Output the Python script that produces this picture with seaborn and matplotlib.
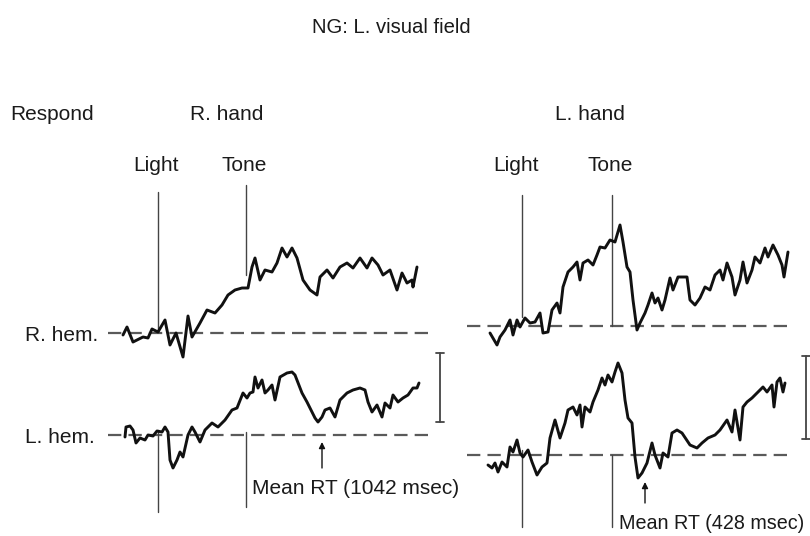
import matplotlib
matplotlib.use("Agg")
import matplotlib.pyplot as plt
import seaborn as sns
import pandas as pd

sns.set_theme(style="white")
plt.rcParams['font.family'] = ['Liberation Sans', 'DejaVu Sans']

# ---------------- data (time units from Light onset, amplitude units above baseline) ----------
rhand_rhem_t = [-35, -31, -25, -15, -10, -6, 0, 7, 12, 18, 25, 30, 34, 42, 49, 57, 64, 70, 77, 84, 90,
                94, 97, 102, 107, 114, 119, 124, 129, 134, 139, 145, 152, 159, 162, 169, 175, 182, 189,
                195, 202, 209, 214, 220, 225, 232, 239, 244, 249, 254, 255, 259]
rhand_rhem_v = [-2, 6, -9, -4, -5, 4, 1, 13, -12, 0, -24, 17, -4, 10, 23, 20, 28, 38, 43, 45, 45,
                66, 75, 53, 63, 61, 70, 85, 76, 85, 75, 53, 43, 38, 56, 63, 55, 66, 70,
                65, 75, 65, 75, 68, 58, 63, 43, 60, 50, 53, 46, 66]

rhand_lhem_t = [-33, -32, -28, -25, -22, -18, -13, -10, -5, -1, 4, 7, 10, 12, 15, 19, 22, 25, 30, 34, 37,
                42, 47, 54, 60, 67, 74, 79, 85, 89, 92, 95, 97, 100, 104, 107, 110, 114, 117, 122, 129,
                134, 137, 144, 149, 154, 157, 160, 164, 167, 172, 177, 182, 189, 195, 202, 207, 210,
                214, 219, 224, 227, 232, 235, 240, 245, 250, 255, 259, 261]
rhand_lhem_v = [-2, 8, 9, 5, -8, -3, -5, 0, -1, 4, 3, 8, 3, -25, -33, -25, -17, -22, 0, 8, 3,
                -7, 5, 12, 8, 15, 25, 27, 42, 37, 42, 43, 58, 47, 55, 42, 45, 50, 35, 58, 62,
                63, 60, 42, 33, 23, 17, 13, 18, 25, 27, 18, 35, 42, 45, 47, 45, 33,
                23, 30, 18, 32, 27, 40, 33, 37, 40, 47, 47, 52]

lhand_rhem_t = [-32, -25, -22, -17, -12, -9, -5, -2, 3, 8, 13, 18, 21, 26, 30, 35, 38, 41, 46, 51, 55,
                58, 61, 66, 71, 75, 78, 83, 88, 93, 98, 101, 105, 108, 111, 115, 118, 123, 126, 130,
                133, 136, 140, 143, 148, 151, 156, 165, 168, 173, 178, 183, 188, 193, 198, 201, 205,
                210, 213, 218, 221, 225, 230, 233, 238, 243, 246, 251, 256, 260, 262, 266]
lhand_rhem_v = [-7, -19, -11, -4, 6, -9, 6, -1, 8, 3, 4, 13, -7, -6, 16, 23, 13, 39, 54, 59, 64,
                46, 63, 66, 61, 71, 79, 78, 86, 84, 101, 84, 59, 54, 26, -4, 3, 13, 21, 33,
                23, 28, 16, 26, 48, 36, 49, 49, 26, 21, 28, 39, 36, 51, 56, 46, 63,
                49, 31, 46, 64, 43, 56, 69, 63, 78, 69, 81, 71, 61, 49, 74]

lhand_lhem_t = [-34, -30, -27, -24, -20, -15, -12, -9, -5, -2, 1, 6, 10, 15, 20, 25, 28, 33, 38, 43, 46,
                51, 55, 58, 60, 63, 68, 71, 76, 80, 83, 86, 90, 93, 96, 100, 103, 106, 110, 113, 116,
                120, 125, 130, 133, 138, 141, 146, 150, 155, 160, 168, 175, 180, 186, 193, 198, 205,
                210, 213, 218, 221, 225, 230, 233, 238, 241, 245, 250, 252, 255, 258, 261, 263]
lhand_lhem_v = [-10, -13, -8, -17, -7, -12, 8, 3, 15, 2, -2, 5, -7, -20, -12, -8, 17, 35, 17, 32, 45,
                48, 40, 50, 28, 48, 43, 53, 65, 77, 70, 80, 73, 83, 92, 82, 55, 37, 32, -2, -23,
                -18, -8, 12, 0, -13, 2, -2, 22, 25, 22, 10, 7, 12, 17, 20, 25, 35,
                23, 45, 15, 48, 53, 57, 60, 65, 68, 63, 70, 48, 73, 77, 63, 72]

event_names = ["Light", "Tone"]
rhand_events = [0, 88]
lhand_events = [0, 90]
rhand_rt_label = "Mean RT (1042 msec)"
lhand_rt_label = "Mean RT (428 msec)"
rhand_rt_time = 164
lhand_rt_time = 123

title = "NG: L. visual field"
hand_labels = ["R. hand", "L. hand"]
hem_labels = ["R. hem.", "L. hem."]

# ---------------- layout (figure pixels) ----------------
W, H = 810, 536
fig = plt.figure(figsize=(W / 100, H / 100), dpi=100)
base = fig.add_axes([0, 0, 1, 1])
base.set_xlim(0, W)
base.set_ylim(H, 0)
base.axis("off")

def trace_axes(x0, y0):
    """Transparent full-figure axes whose origin (t=0, amp=0) is at pixel (x0, y0)."""
    a = fig.add_axes([0, 0, 1, 1])
    a.set_xlim(-x0, W - x0)
    a.set_ylim(y0 - H, y0)
    a.axis("off")
    a.patch.set_alpha(0)
    return a

panels = [
    dict(x0=158, rows=[(333, rhand_rhem_t, rhand_rhem_v), (435, rhand_lhem_t, rhand_lhem_v)],
         events=rhand_events, rt=rhand_rt_time,
         dash=(-50, 272), ev_top=[(1, 141), (58, 148)], ev_bot=[(5, -77), (3, -72)],
         arrow=(-33, -7), bar=(282, 13, 82)),
    dict(x0=522, rows=[(326, lhand_rhem_t, lhand_rhem_v), (455, lhand_lhem_t, lhand_lhem_v)],
         events=lhand_events, rt=lhand_rt_time,
         dash=(-55, 266), ev_top=[(9, 131), (0, 131)], ev_bot=[(5, -72), (0, -72)],
         arrow=(-48, -27), bar=(284, 16, 99)),
]

ink = "#111111"
txt = "#1a1a1a"
fs = 15

for p in panels:
    axes = []
    for (y0, t, v) in p["rows"]:
        a = trace_axes(p["x0"], y0)
        a.plot(list(p["dash"]), [0, 0], color="#5a5a5a", lw=1.6,
               linestyle=(0, (6, 3.2)), zorder=1)
        df = pd.DataFrame({"t": t, "v": v})
        sns.lineplot(data=df, x="t", y="v", ax=a, color=ink, lw=2.1,
                     sort=False, estimator=None, zorder=3)
        a.set_xlim(-p["x0"], W - p["x0"])
        a.set_ylim(y0 - H, y0)
        a.axis("off")
        axes.append(a)
    top, bot = axes
    for ev, (lo, hi) in zip(p["events"], p["ev_top"]):
        top.plot([ev, ev], [lo, hi], color="#444444", lw=1.0, zorder=2)
    for ev, (lo, hi) in zip(p["events"], p["ev_bot"]):
        bot.plot([ev, ev], [lo, hi], color="#444444", lw=1.0, zorder=2)
    a0, a1 = p["arrow"]
    bot.annotate("", xy=(p["rt"], a1), xytext=(p["rt"], a0),
                 arrowprops=dict(arrowstyle="-|>", color=ink, lw=1.0,
                                 mutation_scale=9, shrinkA=0, shrinkB=0))
    bt, blo, bhi = p["bar"]
    bot.plot([bt, bt], [blo, bhi], color="#444444", lw=1.3, clip_on=False)
    for yy in (blo, bhi):
        bot.plot([bt - 4, bt + 4], [yy, yy], color="#444444", lw=1.3, clip_on=False)

# ---------------- text ----------------
base.text(312, 33, title, fontsize=14.6, color=txt, ha="left", va="baseline")
base.text(10, 120, "Respond", fontsize=fs, color=txt, ha="left", va="baseline")
base.text(190, 120, hand_labels[0], fontsize=fs, color=txt, ha="left", va="baseline")
base.text(555, 120, hand_labels[1], fontsize=fs, color=txt, ha="left", va="baseline")
for xl, name in zip([133, 222, 493, 588], event_names * 2):
    base.text(xl, 171, name, fontsize=fs, color=txt, ha="left", va="baseline")
base.text(25, 341, hem_labels[0], fontsize=fs, color=txt, ha="left", va="baseline")
base.text(25, 443, hem_labels[1], fontsize=fs, color=txt, ha="left", va="baseline")
base.text(252, 494, rhand_rt_label, fontsize=fs, color=txt, ha="left", va="baseline")
base.text(619, 529, lhand_rt_label, fontsize=14.2, color=txt, ha="left", va="baseline")

fig.savefig("out.png", dpi=100, facecolor="white")
